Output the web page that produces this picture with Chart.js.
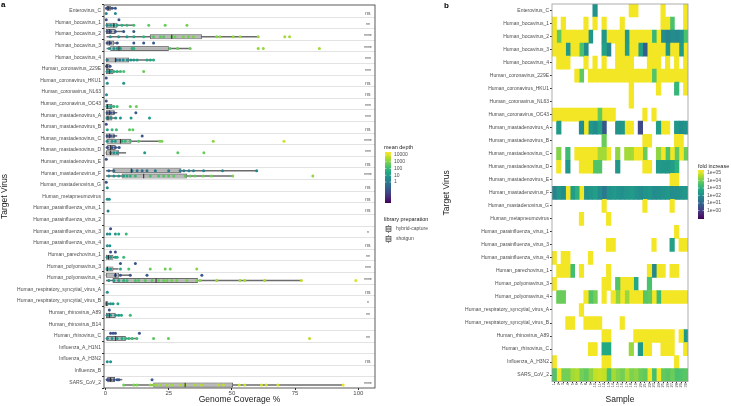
<!DOCTYPE html>
<html>
<head>
<meta charset="utf-8">
<script src="https://cdn.jsdelivr.net/npm/chart.js@4.4.1/dist/chart.umd.min.js"></script>
<style>
  html, body { margin: 0; padding: 0; background: #fff; }
  #wrap { position: relative; width: 731px; height: 406px; overflow: hidden; }
  canvas { position: absolute; top: 0; }
  #chartA { left: 0; }
  #chartB { left: 440px; }
  .tag { position: absolute; font: bold 8px "Liberation Sans", Arial, sans-serif; color: #000; }
</style>
</head>
<body>
<div id="wrap">
  <canvas id="chartA" width="440" height="406" style="width:440px;height:406px"></canvas>
  <canvas id="chartB" width="291" height="406" style="width:291px;height:406px"></canvas>
  <div class="tag" style="left:1px;top:0px">a</div>
  <div class="tag" style="left:444px;top:1px">b</div>
</div>
<script>
const _ = null;

// ---------- panel a ----------
const virusNames = ['Enterovirus_C', 'Human_bocavirus_1', 'Human_bocavirus_2', 'Human_bocavirus_3', 'Human_bocavirus_4',
  'Human_coronavirus_229E', 'Human_coronavirus_HKU1', 'Human_coronavirus_NL63', 'Human_coronavirus_OC43',
  'Human_mastadenovirus_A', 'Human_mastadenovirus_B', 'Human_mastadenovirus_C', 'Human_mastadenovirus_D',
  'Human_mastadenovirus_E', 'Human_mastadenovirus_F', 'Human_mastadenovirus_G', 'Human_metapneumovirus',
  'Human_parainfluenza_virus_1', 'Human_parainfluenza_virus_2', 'Human_parainfluenza_virus_3', 'Human_parainfluenza_virus_4',
  'Human_parechovirus_1', 'Human_polyomavirus_3', 'Human_polyomavirus_4', 'Human_respiratory_syncytial_virus_A',
  'Human_respiratory_syncytial_virus_B', 'Human_rhinovirus_A89', 'Human_rhinovirus_B14', 'Human_rhinovirus_C',
  'Influenza_A_H1N1', 'Influenza_A_H3N2', 'Influenza_B', 'SARS_CoV_2'];

const sigLabels = ['ns', '**', '****', '****', '***', '***', 'ns', 'ns', '***', '***', 'ns', '****', '***', 'ns', '****', 'ns',
  'ns', 'ns', '', '*', 'ns', '**', '***', '****', 'ns', '*', '**', '', '**', '', 'ns', '', '****'];

const covTicks = [0, 25, 50, 75, 100];

// box stats: [lower whisker, q1, median, q3, upper whisker]
const shotgunBox = [[0.3, 0.5, 1.0, 2.0, 3.9], _, [0, 0.3, 1.5, 3.9, 7.2], [0, 0.5, 1.5, 3.3, 5.0], _,
  [0, 0.2, 0.6, 1.5, 2.0], _, _, _, [0, 0.3, 1.5, 3.5, 4.5], _, [0, 0.3, 1.5, 3.5, 4.5], [0, 0.8, 2.0, 3.9, 5.4], _,
  [0.3, 2.9, 10.2, 29.9, 59.8], _, _, _, _, _, _, _, _, [0, 0.3, 3.9, 5.3, 9.8], _, _, _, _, _, _, _, _,
  [0, 0.8, 2.0, 3.7, 6.5]];
const hybridBox = [_, [0, 0.3, 3.3, 4.6, 11.2], [0.5, 17.7, 26.2, 38.0, 60.4], [0.5, 2.0, 5.3, 24.9, 33.5],
  [0, 0.3, 3.9, 9.2, 19.0], [0, 0.3, 1.5, 3.0, 5.5], _, _, [0, 0.2, 0.8, 2.6, 3.5], [0, 0.2, 1.0, 2.6, 4.5], _,
  [0, 0.5, 5.9, 10.1, 22.3], [0, 0.3, 2.0, 5.3, 8.0], _, [0.3, 6.5, 15.1, 32.2, 50.3], _, _, _, _, _, _,
  [0, 0.3, 1.2, 3.0, 4.5], [0, 0.2, 0.8, 3.0, 5.0], [0.3, 2.9, 20.0, 36.4, 77.5], _, [0, 0.1, 0.3, 1.0, 2.0],
  [0, 0.3, 1.5, 3.9, 6.0], _, [0, 0.5, 3.9, 7.9, 12.4], _, _, _, [7.2, 19.0, 31.5, 50.3, 94.0]];

// samples: [genome coverage %, mean depth]
const shotgunPts = [
  [[0.4, 0.05], [1.3, 0.05], [2.6, 0.06], [3.9, 0.08]],
  [[0.3, 0.05], [5.3, 0.08]],
  [[0.7, 0.05], [2.0, 0.06], [3.9, 0.06], [7.2, 0.08], [11.2, 0.1]],
  [[0.7, 0.05], [2.0, 0.05], [4.6, 0.06], [11.2, 0.08], [15.1, 0.08], [19.0, 0.1]],
  [],
  [[0.5, 0.05], [1.8, 0.05]],
  [[0.3, 0.05]],
  [],
  [[0.3, 0.05]],
  [[0.7, 0.05], [2.0, 0.05], [3.3, 0.06], [12.0, 0.1]],
  [[0.3, 0.05]],
  [[0.7, 0.05], [2.0, 0.05], [3.3, 0.06], [14.5, 0.08]],
  [[0.7, 0.05], [2.6, 0.05], [3.9, 0.06], [5.4, 0.07]],
  [[0.3, 0.05]],
  [[1.3, 0.2], [3.3, 0.3], [10.5, 0.4], [12.5, 0.5], [14.5, 0.5], [16.4, 0.6], [19.7, 0.8], [25.0, 0.9], [29.5, 1],
   [31.0, 1], [33.0, 1.2], [34.8, 1.3], [38.8, 1.5], [46.3, 2], [59.8, 2.5]],
  [[0.3, 0.05]],
  [],
  [],
  [],
  [[2.0, 0.05]],
  [],
  [[2.0, 0.05], [3.9, 0.06]],
  [[5.9, 0.05], [11.8, 0.06]],
  [[3.9, 0.05], [5.9, 0.06], [9.8, 0.07], [16.4, 0.08], [38.1, 0.1]],
  [],
  [],
  [[1.5, 0.05]],
  [],
  [[2.0, 0.05], [3.0, 0.05], [3.9, 0.06], [13.4, 0.07]],
  [],
  [],
  [],
  [[0.7, 0.05], [1.3, 0.05], [2.0, 0.06], [3.3, 0.06], [4.6, 0.07], [5.3, 0.07], [18.4, 0.1]]
];
const hybridPts = [
  [[0.3, 2], [3.9, 3]],
  [[0.7, 3], [2.0, 5], [3.3, 8], [4.6, 20], [6.5, 50], [8.5, 80], [11.2, 150], [17.1, 400], [23.6, 500], [32.2, 800]],
  [[1.9, 5], [5.2, 8], [8.5, 10], [11.2, 20], [15.1, 60], [19.0, 300], [21.7, 400], [23.0, 300], [26.2, 500], [27.5, 600],
   [30.8, 800], [32.8, 700], [34.8, 900], [44.0, 1200], [45.3, 1500], [50.5, 1500], [53.2, 1800], [60.4, 2000],
   [70.9, 2500], [72.8, 2500]],
  [[1.5, 4], [3.3, 6], [4.6, 8], [5.9, 15], [10.5, 40], [11.2, 60], [25.5, 300], [28.5, 500], [33.5, 600], [60.4, 1500],
   [62.4, 1800], [84.6, 2500]],
  [[0.7, 1], [4.3, 0.3], [5.6, 0.5], [7.0, 3], [8.6, 5], [10.0, 5], [11.2, 8], [12.5, 10], [16.4, 20], [17.7, 30], [19.0, 40]],
  [[0.7, 5], [2.0, 8], [3.3, 40], [4.6, 60], [5.9, 100], [7.2, 200], [15.1, 600]],
  [[0.7, 4], [7.2, 5]],
  [[0.4, 3]],
  [[0.7, 5], [2.0, 30], [3.3, 80], [4.6, 150], [9.8, 400], [12.2, 600]],
  [[0.7, 2], [2.0, 3], [4.0, 5], [5.9, 6], [10.1, 8], [17.4, 10]],
  [[0.7, 20], [2.6, 60], [4.3, 100], [9.5, 300], [10.8, 400]],
  [[0.7, 3], [2.6, 5], [3.9, 10], [6.5, 40], [7.8, 80], [9.8, 150], [13.1, 300], [21.5, 800], [22.3, 900], [42.6, 1500],
   [70.6, 8000]],
  [[2.0, 4], [3.3, 5], [4.6, 6], [15.5, 10], [28.6, 300], [38.9, 600]],
  [],
  [[1.3, 3], [3.3, 5], [5.2, 8], [7.2, 15], [8.5, 30], [9.8, 50], [11.8, 80], [17.7, 150], [21.0, 200], [23.0, 250],
   [25.0, 300], [27.0, 350], [31.5, 400], [33.5, 450], [35.4, 500], [38.6, 600], [41.9, 700], [50.3, 900], [82.0, 1500]],
  [[0.7, 3]],
  [[0.7, 4], [1.5, 5]],
  [[1.0, 1]],
  [],
  [[0.7, 3], [1.7, 5], [3.9, 8], [5.2, 30], [8.2, 100]],
  [[0.7, 4], [1.7, 5]],
  [[0.7, 3], [2.0, 5], [3.9, 10], [4.6, 30], [7.2, 100]],
  [[0.7, 5], [2.0, 10], [5.9, 20], [9.2, 200], [17.7, 500], [23.6, 600], [25.6, 800], [36.1, 1200]],
  [[1.3, 5], [3.3, 8], [5.2, 20], [7.2, 50], [8.5, 100], [11.8, 200], [13.1, 250], [15.7, 300], [18.4, 400], [21.0, 500],
   [23.0, 500], [24.3, 600], [26.2, 700], [28.2, 800], [32.2, 900], [36.1, 1000], [37.4, 1200], [44.0, 1800],
   [53.2, 2000], [55.1, 2500], [63.0, 3000], [77.5, 5000], [99.0, 10000]],
  [[0.7, 5]],
  [[0.7, 4], [2.0, 5], [3.0, 8], [4.9, 30]],
  [[0.7, 4], [2.0, 5], [3.9, 5], [5.2, 10], [6.3, 30], [9.8, 100]],
  [],
  [[0.7, 3], [2.6, 5], [4.6, 10], [6.5, 30], [7.9, 50], [9.2, 80], [10.5, 100], [12.4, 150], [19.0, 300], [24.9, 500],
   [80.7, 4000]],
  [],
  [[0.7, 4], [2.0, 5]],
  [],
  [[7.2, 600], [11.2, 800], [12.5, 900], [17.7, 1500], [19.0, 1500], [20.3, 2000], [21.7, 2000], [24.3, 2500],
   [26.2, 2500], [29.5, 3000], [31.5, 3000], [35.4, 3500], [38.0, 4000], [44.6, 4500], [46.6, 5000], [52.9, 5000],
   [55.1, 6000], [61.7, 7000], [63.6, 7000], [68.2, 8000], [94.0, 15000]]
];

const depthTicks = [10000, 1000, 100, 10, 1];
const prepNames = ['hybrid-capture', 'shotgun'];

// ---------- panel b ----------
const heatViruses = ['Enterovirus_C', 'Human_bocavirus_1', 'Human_bocavirus_2', 'Human_bocavirus_3', 'Human_bocavirus_4',
  'Human_coronavirus_229E', 'Human_coronavirus_HKU1', 'Human_coronavirus_NL63', 'Human_coronavirus_OC43',
  'Human_mastadenovirus_A', 'Human_mastadenovirus_B', 'Human_mastadenovirus_C', 'Human_mastadenovirus_D',
  'Human_mastadenovirus_E', 'Human_mastadenovirus_F', 'Human_mastadenovirus_G', 'Human_metapneumovirus',
  'Human_parainfluenza_virus_1', 'Human_parainfluenza_virus_3', 'Human_parainfluenza_virus_4', 'Human_parechovirus_1',
  'Human_polyomavirus_3', 'Human_polyomavirus_4', 'Human_respiratory_syncytial_virus_A',
  'Human_respiratory_syncytial_virus_B', 'Human_rhinovirus_A89', 'Human_rhinovirus_C', 'Influenza_A_H3N2', 'SARS_CoV_2'];

const sampleNames = ['1', '2', '3', '4', '5', '6', '7', '8', '9', '10', '11', '12', '13', '14', '15', '16', '17', '18', '19',
  '20', '21', '22', '23', '24', '25', '26', '27', '28', '29', '30'];

// log10 fold increase, one row per virus, one entry per sample
const foldRows = [
  [_,_,_,_,_,_,_,_,_,2.2,_,_,_,_,_,_,_,5.3,5.3,_,_,_,_,_,5.3,_,_,_,_,5.3],
  [5.3,_,5.3,_,_,_,_,5.3,_,5.3,_,5.3,_,_,_,5.3,_,_,_,_,_,_,_,_,5.3,5.3,3.5,_,_,5.3],
  [5.3,3.8,5.3,5.3,5.3,5.3,5.3,5.3,2.3,_,_,2.3,5.3,5.3,5.3,5.3,2.4,5.3,5.3,5.3,5.3,5.3,3.2,5.3,2.0,1.8,2.0,1.9,2.2,3.5],
  [5.3,5.3,5.3,2.4,5.3,5.3,3.5,2.0,_,_,_,2.6,1.8,_,5.3,5.3,2.5,5.3,5.3,2.6,0.8,5.3,5.3,5.3,5.3,2.3,5.3,5.3,2.4,5.3],
  [_,5.3,5.3,5.3,_,_,_,5.3,_,5.3,_,5.3,_,_,5.3,5.3,5.3,5.3,_,_,_,5.3,5.3,5.3,_,5.3,_,5.3,_,5.3],
  [_,_,_,_,_,5.3,3.8,_,5.3,5.3,5.3,5.3,5.3,5.3,5.3,5.3,5.3,5.3,5.3,5.3,5.3,5.3,3.6,5.3,5.3,5.3,5.3,5.3,5.3,5.3],
  [_,_,_,_,_,_,_,_,_,_,_,_,_,_,_,_,_,5.3,_,_,_,_,_,5.3,_,_,_,3.2,_,5.3],
  [_,_,_,_,_,_,_,_,_,_,_,_,_,_,_,_,_,5.3,_,_,_,_,_,_,_,_,_,_,_,_],
  [5.3,5.3,5.3,5.3,5.3,5.3,5.3,5.3,5.3,5.3,3.8,5.3,5.3,5.3,_,_,_,_,_,_,5.3,_,5.3,_,_,_,_,_,_,_],
  [_,2.4,_,_,_,_,2.0,5.3,2.3,2.0,2.6,0.6,_,_,2.2,2.3,5.3,5.3,_,0.3,_,_,_,2.5,5.3,5.3,_,2.3,2.0,2.2],
  [_,_,_,_,_,_,_,_,_,_,_,3.9,_,_,_,_,_,_,_,_,5.3,5.3,_,_,_,_,_,5.3,5.3,_],
  [_,4.2,_,3.3,_,5.3,5.3,5.3,5.3,5.3,4.5,4.5,5.3,_,4.3,_,4.5,4.5,5.3,5.3,3.9,_,_,4.3,5.3,3.5,5.3,3.8,5.3,3.9],
  [_,5.3,_,2.3,_,_,5.3,5.3,5.3,3.6,3.6,_,_,_,2.3,_,_,_,_,_,5.3,5.3,_,2.4,2.3,2.3,2.5,3.0,_,_],
  [_,_,_,_,_,_,_,_,_,_,_,_,_,_,_,_,_,_,_,_,_,_,_,_,_,_,5.3,5.3,_,_],
  [1.8,2.3,2.0,5.3,2.5,3.0,5.3,2.2,2.3,2.5,2.0,1.5,2.2,2.3,2.2,2.1,2.3,2.4,2.2,2.0,2.2,2.3,2.0,2.1,2.2,2.3,2.0,2.1,2.2,2.3],
  [_,_,_,_,_,_,_,_,_,_,_,5.3,_,_,_,_,_,_,_,_,5.3,_,_,_,_,_,5.3,_,_,_],
  [_,_,_,_,_,_,5.3,_,_,_,_,_,5.3,_,_,_,_,_,_,_,_,_,_,_,_,_,_,_,_,_],
  [_,_,_,_,_,_,_,_,_,_,_,_,_,_,_,_,_,_,_,_,_,_,_,_,_,_,_,5.3,_,_],
  [_,_,_,_,_,_,_,_,_,_,_,_,5.3,5.3,_,_,_,_,_,_,_,_,5.3,_,_,_,2.6,_,5.3,5.3],
  [5.3,_,5.3,5.3,_,_,_,_,5.3,_,_,_,_,_,_,_,_,_,_,_,_,_,_,_,_,_,_,_,_,_],
  [_,5.3,5.3,5.3,3.4,_,5.3,_,_,_,_,_,5.3,_,_,_,_,_,_,_,_,5.3,1.9,5.3,5.3,_,5.3,5.3,_,_],
  [5.3,_,_,_,_,_,_,_,_,_,_,5.3,5.3,_,3.6,5.3,5.3,5.3,2.8,_,_,3.5,_,_,_,_,_,_,_,_],
  [_,3.9,3.9,_,_,_,_,5.3,3.6,4.0,_,5.3,_,5.3,4.3,5.3,4.4,5.3,5.3,5.3,3.7,3.8,5.3,3.3,5.3,5.3,5.3,5.3,5.3,5.3],
  [_,_,_,_,_,_,5.3,_,_,_,_,_,_,_,_,_,_,_,_,_,_,_,_,_,_,_,_,_,_,_],
  [_,_,_,5.3,5.3,_,_,5.3,5.3,5.3,5.3,_,_,_,_,5.3,_,_,_,_,_,_,_,_,_,_,_,_,_,_],
  [_,_,_,_,_,_,_,_,_,_,_,5.3,5.3,_,_,_,_,_,5.3,5.3,5.3,5.3,5.3,5.3,5.3,5.3,5.3,_,5.3,2.3],
  [_,_,_,_,_,_,_,_,5.3,5.3,_,2.8,2.8,_,_,_,_,4.4,_,2.4,5.3,5.3,_,_,5.3,5.3,5.3,_,_,5.3],
  [5.3,_,_,_,_,_,_,_,_,_,_,5.3,5.3,_,_,_,_,_,_,_,_,_,_,_,_,_,_,5.3,_,_],
  [3.6,5.3,4.0,4.0,4.5,4.6,4.0,3.8,4.3,4.8,4.9,4.8,3.5,4.5,4.2,4.0,4.6,4.1,4.3,3.9,3.8,5.3,3.4,5.3,3.8,3.7,3.9,3.5,3.6,3.7]
];
const foldTicks = [5, 4, 3, 2, 1, 0];

// ---------- colour scale ----------
const VIRIDIS = ['#440154', '#482475', '#414487', '#355f8d', '#2a788e', '#21918c', '#22a884', '#44bf70', '#7ad151', '#bddf26', '#fde725'];
function hexRgb(h) { return [1, 3, 5].map(i => parseInt(h.slice(i, i + 2), 16)); }
function viridis(t) {
  t = Math.max(0, Math.min(1, t));
  const p = t * 10, i = Math.min(9, Math.floor(p)), f = p - i;
  const a = hexRgb(VIRIDIS[i]), b = hexRgb(VIRIDIS[i + 1]);
  const c = a.map((v, k) => Math.round(v + (b[k] - v) * f));
  return `rgb(${c[0]},${c[1]},${c[2]})`;
}
const DEPTH_LO = -3.1, DEPTH_HI = 4.44;
const depthT = d => (Math.log10(d) - DEPTH_LO) / (DEPTH_HI - DEPTH_LO);
const FOLD_LO = -1.13, FOLD_HI = 5.4;
const foldT = v => (v - FOLD_LO) / (FOLD_HI - FOLD_LO);

Chart.defaults.font.family = '"Liberation Sans", Arial, Helvetica, sans-serif';
Chart.defaults.color = '#4d4d4d';

// ---------- chart a ----------
const SG_OFF = -0.22, HC_OFF = 0.24;
const whiskerData = (b, off) => b.map((s, i) => s && { x: [s[0], s[4]], y: i + off }).filter(Boolean);
const boxData = (b, off) => b.map((s, i) => s && { x: [s[1], s[3]], y: i + off }).filter(Boolean);
const medianData = (b, off) => b.map((s, i) => s && { x: s[2], y: i + off }).filter(Boolean);
const pointData = (pts, off) => pts.flatMap((list, i) => list.map(p => ({ x: p[0], y: i + off, depth: p[1] })));
const depthColor = c => (c.raw && c.raw.depth ? viridis(depthT(c.raw.depth)) : '#000');

function gradientBar(ctx, x, top, w, h) {
  const g = ctx.createLinearGradient(0, top + h, 0, top);
  for (let k = 0; k <= 10; k++) g.addColorStop(k / 10, viridis(k / 10));
  ctx.fillStyle = g;
  ctx.fillRect(x, top, w, h);
}

const panelA = {
  id: 'panelA',
  beforeDatasetsDraw(chart) {
    const { ctx, chartArea: a, scales: { y } } = chart;
    ctx.save();
    ctx.strokeStyle = '#e3e3e3';
    ctx.lineWidth = 1;
    for (let i = 0; i < virusNames.length - 1; i++) {
      const py = Math.round(y.getPixelForValue(i + 0.5)) + 0.5;
      ctx.beginPath(); ctx.moveTo(a.left, py); ctx.lineTo(a.right, py); ctx.stroke();
    }
    ctx.restore();
  },
  afterDatasetsDraw(chart) {
    const { ctx, chartArea: a, scales: { x, y } } = chart;
    ctx.save();
    ctx.strokeStyle = '#333';
    ctx.lineWidth = 0.8;
    ctx.strokeRect(a.left, a.top, a.right - a.left, a.bottom - a.top);
    ctx.fillStyle = '#4d4d4d';
    ctx.font = '5px "Liberation Sans", Arial, sans-serif';
    ctx.textAlign = 'center';
    ctx.textBaseline = 'middle';
    sigLabels.forEach((s, i) => { if (s) ctx.fillText(s, x.getPixelForValue(103.8), y.getPixelForValue(i + 0.24)); });
    ctx.restore();
  },
  afterDraw(chart) {
    const { ctx } = chart;
    ctx.save();
    ctx.fillStyle = '#1a1a1a';
    ctx.font = '5.5px "Liberation Sans", Arial, sans-serif';
    ctx.textBaseline = 'middle';
    ctx.fillText('mean depth', 384, 147);
    const top = 152, h = 51;
    gradientBar(ctx, 385, top, 6, h);
    ctx.font = '5px "Liberation Sans", Arial, sans-serif';
    ctx.fillStyle = '#4d4d4d';
    depthTicks.forEach(d => {
      const py = top + h - depthT(d) * h;
      ctx.strokeStyle = '#fff'; ctx.lineWidth = 0.5;
      ctx.beginPath(); ctx.moveTo(385, py); ctx.lineTo(386.5, py); ctx.moveTo(389.5, py); ctx.lineTo(391, py); ctx.stroke();
      ctx.fillText(String(d), 394, py);
    });
    ctx.fillStyle = '#1a1a1a';
    ctx.font = '5.5px "Liberation Sans", Arial, sans-serif';
    ctx.fillText('library preparation', 384, 219);
    ctx.font = '5px "Liberation Sans", Arial, sans-serif';
    prepNames.forEach((n, k) => {
      const cy = 229 + k * 10;
      ctx.strokeStyle = '#333'; ctx.lineWidth = 0.6;
      ctx.beginPath(); ctx.moveTo(388.5, cy - 4); ctx.lineTo(388.5, cy - 2.5); ctx.moveTo(388.5, cy + 2.5); ctx.lineTo(388.5, cy + 4); ctx.stroke();
      ctx.fillStyle = '#d0d0d0';
      ctx.fillRect(386, cy - 2.5, 5, 5);
      ctx.strokeRect(386, cy - 2.5, 5, 5);
      ctx.beginPath(); ctx.moveTo(386, cy); ctx.lineTo(391, cy); ctx.stroke();
      ctx.fillStyle = '#4d4d4d';
      ctx.fillText(n, 396, cy);
    });
    ctx.restore();
  }
};

new Chart(document.getElementById('chartA'), {
  type: 'bar',
  data: {
    datasets: [
      { type: 'bar', data: whiskerData(shotgunBox, SG_OFF).concat(whiskerData(hybridBox, HC_OFF)),
        barThickness: 0.8, grouped: false, backgroundColor: '#6b6b6b', order: 5 },
      { type: 'bar', data: boxData(shotgunBox, SG_OFF).concat(boxData(hybridBox, HC_OFF)),
        barThickness: 4.4, grouped: false, backgroundColor: 'rgba(190,190,190,0.9)', borderColor: '#555',
        borderWidth: 0.7, borderSkipped: false, order: 4 },
      { type: 'scatter', data: pointData(shotgunPts, SG_OFF).concat(pointData(hybridPts, HC_OFF)),
        pointRadius: 1.5, pointBorderWidth: 0, pointBackgroundColor: depthColor, order: 2 },
      { type: 'scatter', data: medianData(shotgunBox, SG_OFF).concat(medianData(hybridBox, HC_OFF)),
        pointStyle: 'line', rotation: 90, pointRadius: 2.2, pointBorderColor: '#2b2b2b', pointBorderWidth: 1, order: 1 }
    ]
  },
  options: {
    indexAxis: 'y',
    responsive: false,
    animation: false,
    layout: { padding: { top: 1.7, right: 65, bottom: 0, left: 0 } },
    plugins: { legend: { display: false }, tooltip: { enabled: false } },
    scales: {
      x: {
        type: 'linear', min: -0.6, max: 106.6, offset: false,
        afterBuildTicks: s => { s.ticks = covTicks.map(v => ({ value: v })); },
        afterFit: s => { s.height = 18; },
        ticks: { font: { size: 6 }, padding: 0, color: '#4d4d4d' },
        grid: { drawOnChartArea: false, tickLength: 2, color: '#333' },
        border: { display: false },
        title: { display: true, text: 'Genome Coverage %', font: { size: 8.5 }, color: '#1a1a1a', padding: { top: 0, bottom: 1 } }
      },
      y: {
        type: 'linear', reverse: true, min: -0.5, max: 32.5, offset: false,
        afterBuildTicks: s => { s.ticks = virusNames.map((n, i) => ({ value: i })); },
        afterFit: s => { s.width = 104; },
        ticks: { autoSkip: false, font: { size: 5 }, padding: 1, color: '#4d4d4d', callback: (v, i) => virusNames[i] },
        grid: { drawOnChartArea: false, tickLength: 2, color: '#333' },
        border: { display: false },
        title: { display: true, text: 'Target Virus', font: { size: 8.5 }, color: '#1a1a1a', padding: 0 }
      }
    }
  },
  plugins: [panelA]
});

// ---------- chart b ----------
const panelB = {
  id: 'panelB',
  afterDatasetsDraw(chart) {
    const { ctx, chartArea: a } = chart;
    ctx.save();
    ctx.strokeStyle = '#9a9a9a';
    ctx.lineWidth = 0.8;
    ctx.strokeRect(a.left, a.top, a.right - a.left, a.bottom - a.top);
    ctx.restore();
  },
  afterDraw(chart) {
    const { ctx } = chart;
    ctx.save();
    ctx.fillStyle = '#1a1a1a';
    ctx.font = '5.5px "Liberation Sans", Arial, sans-serif';
    ctx.textBaseline = 'middle';
    ctx.fillText('fold increase', 258, 166);
    const top = 170, h = 49;
    gradientBar(ctx, 258, top, 6, h);
    ctx.font = '5px "Liberation Sans", Arial, sans-serif';
    ctx.fillStyle = '#4d4d4d';
    foldTicks.forEach(v => {
      const py = top + h - foldT(v) * h;
      ctx.strokeStyle = '#fff'; ctx.lineWidth = 0.5;
      ctx.beginPath(); ctx.moveTo(258, py); ctx.lineTo(259.5, py); ctx.moveTo(262.5, py); ctx.lineTo(264, py); ctx.stroke();
      ctx.fillText('1e+0' + v, 267, py);
    });
    ctx.restore();
  }
};

new Chart(document.getElementById('chartB'), {
  type: 'bar',
  data: {
    labels: heatViruses,
    datasets: sampleNames.map((s, k) => ({
      label: s,
      data: heatViruses.map(() => 1),
      backgroundColor: foldRows.map(r => (r[k] === null ? 'rgba(0,0,0,0)' : viridis(foldT(r[k])))),
      borderWidth: 0,
      barPercentage: 1,
      categoryPercentage: 1
    }))
  },
  options: {
    indexAxis: 'y',
    responsive: false,
    animation: false,
    layout: { padding: { top: 0.4, right: 43, bottom: 0, left: 0 } },
    plugins: { legend: { display: false }, tooltip: { enabled: false } },
    scales: {
      x: {
        type: 'linear', stacked: true, min: 0, max: sampleNames.length, offset: false,
        afterBuildTicks: s => { s.ticks = sampleNames.map((n, k) => ({ value: k + 0.5 })); },
        afterFit: s => { s.height = 24.4; },
        ticks: { autoSkip: false, minRotation: 90, maxRotation: 90, font: { size: 4 }, padding: 0, color: '#4d4d4d',
                 callback: (v, i) => sampleNames[i] },
        grid: { drawOnChartArea: false, tickLength: 1.5, color: '#333' },
        border: { display: false },
        title: { display: true, text: 'Sample', font: { size: 8.5 }, color: '#1a1a1a', padding: { top: 0, bottom: 1 } }
      },
      y: {
        type: 'category', stacked: true, offset: true,
        afterFit: s => { s.width = 112; },
        ticks: { autoSkip: false, font: { size: 5 }, padding: 1, color: '#4d4d4d' },
        grid: { drawOnChartArea: false, offset: false, tickLength: 2, color: '#333' },
        border: { display: false },
        title: { display: true, text: 'Target Virus', font: { size: 8.5 }, color: '#1a1a1a', padding: 2 }
      }
    }
  },
  plugins: [panelB]
});
</script>
</body>
</html>
